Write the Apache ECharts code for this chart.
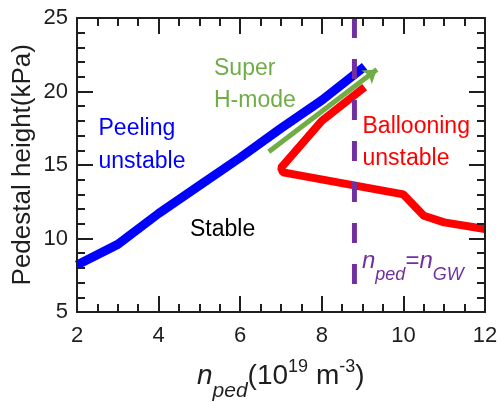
<!DOCTYPE html>
<html><head><meta charset="utf-8">
<script src="https://cdn.jsdelivr.net/npm/echarts@6/dist/echarts.min.js"></script>
<style>html,body{margin:0;padding:0;background:#fff;overflow:hidden}
.c{width:501px;height:402px;position:absolute;left:0;top:0}</style>
</head><body>
<div class="c" id="plot" style="z-index:1"></div>
<div class="c" id="axes" style="z-index:2;pointer-events:none"></div>
<script>
// ---- data ----
const peelingX = [2, 3, 4, 5, 6, 7, 8, 9.05];
const peelingY = [8.2, 9.6, 11.7, 13.6, 15.5, 17.5, 19.4, 21.7];
const balloonX = [9.05, 8.0, 7.0, 7.05, 10.0, 10.5, 11.0, 12.0];
const balloonY = [20.3, 18.0, 14.8, 14.5, 13.0, 11.55, 11.1, 10.65];
const arrowStart = [6.7, 15.9];
const arrowEnd = [9.35, 21.5];
const gwX = [8.8, 8.8];
const gwY = [25, 5.8];
const xRange = [2, 12];
const yRange = [5, 25];
const xMajor = 2, xMinor = 0.5;
const yMajor = 5, yMinor = 1;

const FONT = "'Liberation Sans', Arial, Helvetica, sans-serif";
const AX = '#1e1e1e';
const GRID = { left: 77, right: 16, top: 18, bottom: 90 };
const zip = (a, b) => a.map((v, i) => [v, b[i]]);

function axis(isX, pos, interval, tickLen, showLabel, showLine) {
  const r = isX ? xRange : yRange;
  return {
    type: 'value', position: pos, min: r[0], max: r[1], interval: interval,
    axisLine: { show: showLine, onZero: false, lineStyle: { color: AX, width: 2 } },
    axisTick: { show: true, inside: true, length: tickLen, lineStyle: { color: AX, width: 2 } },
    splitLine: { show: false },
    axisLabel: { show: showLabel, fontSize: 22, fontFamily: FONT, color: AX,
      margin: isX ? 13 : 9, lineHeight: 22 }
  };
}
function hiddenAxis(isX, pos) {
  const r = isX ? xRange : yRange;
  return { type: 'value', position: pos, min: r[0], max: r[1],
    axisLine: { show: false }, axisTick: { show: false }, axisLabel: { show: false }, splitLine: { show: false } };
}

// lower layer: curves and annotations
echarts.init(document.getElementById('plot')).setOption({
  animation: false,
  grid: GRID,
  xAxis: hiddenAxis(true, 'bottom'),
  yAxis: hiddenAxis(false, 'left'),
  series: [
    { type: 'line', data: zip(peelingX, peelingY), symbol: 'none', z: 3,
      lineStyle: { color: '#0000ff', width: 9 } },
    { type: 'line', data: zip(balloonX, balloonY), symbol: 'none', z: 3,
      lineStyle: { color: '#ff0000', width: 8 },
      markLine: { silent: true, animation: false, symbol: ['none', 'arrow'], symbolSize: 13,
        label: { show: false }, emphasis: { disabled: true },
        lineStyle: { color: '#70ad47', width: 5, type: 'solid', opacity: 1 },
        data: [[{ coord: arrowStart }, { coord: arrowEnd }]] } },
    { type: 'line', data: zip(gwX, gwY), symbol: 'none', z: 5,
      lineStyle: { color: '#7030a0', width: 5, type: [20, 21] } }
  ],
  graphic: [
    { type: 'text', z: 10, style: { x: 214, y: 53, text: 'Super\nH-mode', fill: '#70ad47',
      font: '23px ' + FONT, lineHeight: 32, verticalAlign: 'top', align: 'left' } },
    { type: 'text', z: 10, style: { x: 98.5, y: 112.5, text: 'Peeling\nunstable', fill: '#0000ff',
      font: '23px ' + FONT, lineHeight: 33, verticalAlign: 'top', align: 'left' } },
    { type: 'text', z: 10, style: { x: 362.5, y: 111, text: 'Ballooning\nunstable', fill: '#ff0000',
      font: '23px ' + FONT, lineHeight: 32, verticalAlign: 'top', align: 'left' } },
    { type: 'text', z: 10, style: { x: 190, y: 230, text: 'Stable', fill: '#000',
      font: '23px ' + FONT, verticalAlign: 'middle', align: 'left' } },
    { type: 'text', z: 10, style: { x: 362, y: 249.7, align: 'left', verticalAlign: 'top',
      text: '{m|n}{s|ped}{e|=}{m|n}{s|GW}', fill: '#7030a0',
      rich: {
        m: { fontSize: 24, fontStyle: 'italic', fontFamily: FONT, padding: [0, 0, 0, 0], verticalAlign: 'top', fill: '#7030a0' },
        e: { fontSize: 24, fontFamily: FONT, padding: [0, 0, 0, 0], verticalAlign: 'top', fill: '#7030a0' },
        s: { fontSize: 18, fontStyle: 'italic', fontFamily: FONT, padding: [15.8, 0, 0, 0], verticalAlign: 'top', fill: '#7030a0' }
      } } },
    { type: 'text', z: 10, style: { x: 197, y: 356.3, align: 'left', verticalAlign: 'top',
      text: '{mi|n}{s|ped}{m|(10}{p|19}{m| m}{p|-3}{m|)}', fill: AX,
      rich: {
        mi: { fontSize: 28, fontStyle: 'italic', fontFamily: FONT, padding: [6, 0, 0, 0], verticalAlign: 'top', fill: AX },
        m: { fontSize: 28, fontFamily: FONT, padding: [6, 0, 0, 0], verticalAlign: 'top', fill: AX },
        s: { fontSize: 21, fontStyle: 'italic', fontFamily: FONT, padding: [23.9, 0, 0, 0], verticalAlign: 'top', fill: AX },
        p: { fontSize: 18, fontFamily: FONT, padding: [1.8, 0, 0, 0], verticalAlign: 'top', fill: AX }
      } } },
    { type: 'text', z: 10, x: 22.6, y: 164.75, rotation: Math.PI / 2,
      style: { x: 0, y: 0, text: 'Pedestal height(kPa)', fill: AX, font: '26px ' + FONT,
        align: 'center', verticalAlign: 'middle' } }
  ]
});

// upper layer (transparent): frame, ticks, tick labels
echarts.init(document.getElementById('axes')).setOption({
  animation: false,
  backgroundColor: 'transparent',
  grid: GRID,
  xAxis: [axis(true, 'bottom', xMajor, 16, true, true), axis(true, 'bottom', xMinor, 8, false, false),
          axis(true, 'top', xMajor, 16, false, true), axis(true, 'top', xMinor, 8, false, false)],
  yAxis: [axis(false, 'left', yMajor, 16, true, true), axis(false, 'left', yMinor, 8, false, false),
          axis(false, 'right', yMajor, 16, false, true), axis(false, 'right', yMinor, 8, false, false)],
  series: []
});
</script>
</body></html>
